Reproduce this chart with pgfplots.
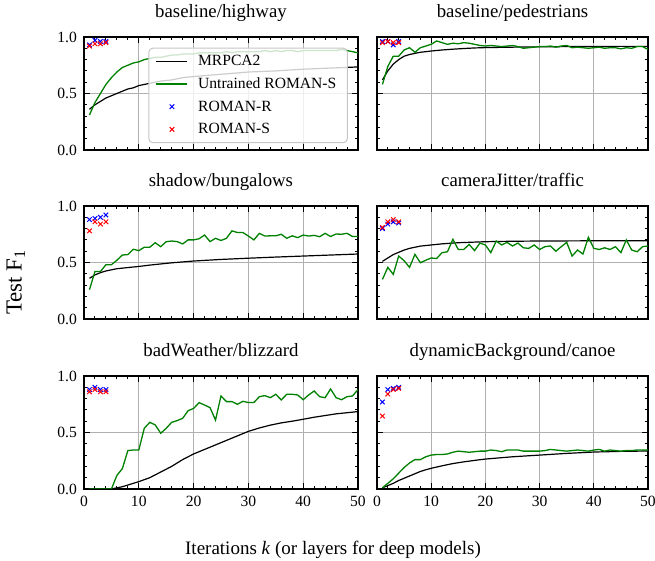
\documentclass[border=0pt]{standalone}
\usepackage{fontspec}
\setmainfont{Liberation Serif}
\usepackage{pgfplots}
\pgfplotsset{compat=1.18}

\definecolor{mgreen}{RGB}{0,128,0}
\definecolor{gridgray}{RGB}{176,176,176}
\newcommand\ticksz{\fontsize{7.8}{9}\selectfont}
\newcommand\titlesz{\fontsize{9.4}{11}\selectfont}

\pgfplotsset{
  panel/.style={
    scale only axis, height=56.5pt,
    xmin=0, xmax=50, ymin=0, ymax=1,
    xtick={0,10,...,50}, ytick={0,0.5,1},
    minor x tick num=4, minor y tick num=4,
    tick align=inside, tick pos=both,
    xticklabel pos=lower, yticklabel pos=left,
    major tick length=2.8pt, minor tick length=1.6pt,
    tick style={black, line width=0.5pt},
    axis line style={line width=0.6pt},
    grid=major, major grid style={gridgray, line width=0.5pt},
    tick label style={font=\ticksz},
    /pgf/number format/assume math mode=true,
    yticklabel style={/pgf/number format/.cd, fixed, fixed zerofill, precision=1},
    title style={font=\titlesz, anchor=base, at={(0.5,1)}, yshift=3.5pt},
  },
  mline/.style={black, line width=0.6pt, no marks,
    legend image code/.code={\draw[##1] (0pt,0pt) -- (15.5pt,0pt);}},
  gline/.style={mgreen, line width=0.65pt, no marks,
    legend image code/.code={\draw[##1] (0pt,0pt) -- (15.5pt,0pt);}},
  rmark/.style={blue, only marks, mark=x, mark size=1.6pt, mark options={line width=0.5pt},
    legend image code/.code={\draw[##1,mark repeat=2,mark phase=2] plot coordinates {(0pt,0pt)(7.75pt,0pt)(15.5pt,0pt)};}},
  smark/.style={red, only marks, mark=x, mark size=1.6pt, mark options={line width=0.5pt},
    legend image code/.code={\draw[##1,mark repeat=2,mark phase=2] plot coordinates {(0pt,0pt)(7.75pt,0pt)(15.5pt,0pt)};}},
  colL/.style={width=137pt},
  colR/.style={width=135.5pt, yticklabels={}},
}

\begin{document}
\begin{tikzpicture}
\path[use as bounding box] (0,0) rectangle (327.5pt,280.5pt);

% baseline/highway
\begin{axis}[panel, colL, at={(42pt,205.5pt)}, anchor=south west,
  title={baseline/highway}, xticklabels={},
  legend style={at={(0.963,0.905)}, anchor=north east, font=\ticksz,
    draw=gray!45, line width=0.5pt, rounded corners=2pt, fill=white,
    fill opacity=0.8, text opacity=1, draw opacity=1,
    inner xsep=3.5pt, inner ysep=1pt, column sep=3pt,
    nodes={text height=6.3pt, text depth=2pt, inner ysep=1.5pt}},
  legend cell align=left]
\addplot[mline] coordinates {(1,0.36) (2,0.40) (3,0.43) (4,0.46) (5,0.48) (6,0.50) (7,0.52) (8,0.54) (9,0.55) (10,0.57) (12,0.59) (14,0.61) (16,0.62) (18,0.64) (20,0.65) (25,0.67) (30,0.69) (35,0.70) (40,0.715) (45,0.725) (50,0.735)};
\addlegendentry{MRPCA2}
\addplot[gline] coordinates {(1,0.31) (2,0.42) (3,0.50) (4,0.58) (5,0.64) (6,0.69) (7,0.73) (8,0.75) (9,0.77) (10,0.78) (11,0.80) (12,0.81) (13,0.82) (14,0.82) (15,0.83) (16,0.84) (17,0.84) (18,0.85) (19,0.85) (20,0.85) (21,0.86) (22,0.86) (23,0.86) (24,0.86) (25,0.86) (26,0.87) (27,0.86) (28,0.87) (29,0.87) (30,0.87) (31,0.87) (32,0.87) (33,0.88) (34,0.87) (35,0.88) (36,0.87) (37,0.88) (38,0.88) (39,0.87) (40,0.88) (41,0.88) (42,0.88) (43,0.88) (44,0.88) (45,0.88) (46,0.88) (47,0.89) (48,0.88) (49,0.87) (50,0.86)};
\addlegendentry{Untrained ROMAN-S}
\addplot[rmark] coordinates {(1,0.93) (2,0.97) (3,0.96) (4,0.96)};
\addlegendentry{ROMAN-R}
\addplot[smark] coordinates {(1,0.92) (2,0.94) (3,0.94) (4,0.95)};
\addlegendentry{ROMAN-S}
\end{axis}

% baseline/pedestrians
\begin{axis}[panel, colR, at={(188.5pt,205.5pt)}, anchor=south west,
  title={baseline/pedestrians}, xticklabels={}]
\addplot[mline] coordinates {(1,0.62) (2,0.70) (3,0.76) (4,0.80) (5,0.83) (6,0.845) (7,0.855) (8,0.865) (9,0.87) (10,0.876) (12,0.885) (14,0.892) (16,0.898) (18,0.903) (20,0.906) (25,0.91) (30,0.913) (35,0.915) (40,0.916) (45,0.917) (50,0.917)};
\addplot[gline] coordinates {(1,0.58) (2,0.74) (3,0.83) (4,0.83) (5,0.885) (6,0.905) (7,0.865) (8,0.905) (9,0.92) (10,0.935) (11,0.965) (12,0.95) (13,0.935) (14,0.945) (15,0.94) (16,0.95) (17,0.945) (18,0.935) (19,0.925) (20,0.92) (21,0.925) (22,0.92) (23,0.915) (24,0.92) (25,0.925) (26,0.915) (27,0.90) (28,0.905) (29,0.91) (30,0.915) (31,0.915) (32,0.92) (33,0.91) (34,0.92) (35,0.925) (36,0.905) (37,0.91) (38,0.905) (39,0.90) (40,0.905) (41,0.91) (42,0.90) (43,0.905) (44,0.905) (45,0.895) (46,0.905) (47,0.90) (48,0.915) (49,0.915) (50,0.89)};
\addplot[rmark] coordinates {(1,0.96) (2,0.96) (3,0.93) (4,0.96)};
\addplot[smark] coordinates {(1,0.95) (2,0.96) (3,0.95) (4,0.95)};
\end{axis}

% shadow/bungalows
\begin{axis}[panel, colL, at={(42pt,121pt)}, anchor=south west,
  title={shadow/bungalows}, xticklabels={}]
\addplot[mline] coordinates {(1,0.36) (2,0.39) (3,0.41) (4,0.425) (5,0.435) (6,0.445) (8,0.455) (10,0.465) (12,0.477) (14,0.487) (16,0.497) (18,0.505) (20,0.513) (25,0.527) (30,0.538) (35,0.548) (40,0.557) (45,0.566) (50,0.575)};
\addplot[gline] coordinates {(1,0.26) (2,0.42) (3,0.42) (4,0.48) (5,0.48) (6,0.52) (7,0.566) (8,0.57) (9,0.617) (10,0.605) (11,0.635) (12,0.635) (13,0.675) (14,0.64) (15,0.684) (16,0.69) (17,0.685) (18,0.664) (19,0.70) (20,0.70) (21,0.71) (22,0.743) (23,0.685) (24,0.714) (25,0.695) (26,0.714) (27,0.78) (28,0.765) (29,0.765) (30,0.734) (31,0.70) (32,0.758) (33,0.734) (34,0.736) (35,0.736) (36,0.75) (37,0.714) (38,0.736) (39,0.72) (40,0.743) (41,0.734) (42,0.74) (43,0.728) (44,0.758) (45,0.73) (46,0.752) (47,0.75) (48,0.758) (49,0.73) (50,0.73)};
\addplot[rmark] coordinates {(1,0.88) (2,0.89) (3,0.90) (4,0.92)};
\addplot[smark] coordinates {(1,0.78) (2,0.86) (3,0.84) (4,0.86)};
\end{axis}

% cameraJitter/traffic
\begin{axis}[panel, colR, at={(188.5pt,121pt)}, anchor=south west,
  title={cameraJitter/traffic}, xticklabels={}]
\addplot[mline] coordinates {(1,0.51) (2,0.54) (3,0.57) (4,0.59) (5,0.61) (6,0.625) (7,0.635) (8,0.645) (10,0.655) (12,0.665) (15,0.675) (20,0.684) (25,0.688) (30,0.69) (40,0.692) (50,0.693)};
\addplot[gline] coordinates {(1,0.35) (2,0.457) (3,0.395) (4,0.557) (5,0.516) (6,0.457) (7,0.572) (8,0.498) (9,0.52) (10,0.54) (11,0.535) (12,0.587) (13,0.595) (14,0.705) (15,0.615) (16,0.615) (17,0.66) (18,0.605) (19,0.672) (20,0.655) (21,0.587) (22,0.69) (23,0.655) (24,0.678) (25,0.646) (26,0.672) (27,0.63) (28,0.625) (29,0.655) (30,0.615) (31,0.64) (32,0.646) (33,0.60) (34,0.64) (35,0.678) (36,0.557) (37,0.61) (38,0.575) (39,0.723) (40,0.625) (41,0.615) (42,0.63) (43,0.615) (44,0.64) (45,0.587) (46,0.70) (47,0.61) (48,0.595) (49,0.64) (50,0.646)};
\addplot[rmark] coordinates {(1,0.80) (2,0.84) (3,0.86) (4,0.85)};
\addplot[smark] coordinates {(1,0.81) (2,0.86) (3,0.88) (4,0.86)};
\end{axis}

% badWeather/blizzard
\begin{axis}[panel, colL, at={(42pt,36pt)}, anchor=south west,
  title={badWeather/blizzard}]
\addplot[mline] coordinates {(1,0) (2,0) (3,0) (4,0) (5,0.0) (6,0.01) (7,0.02) (8,0.035) (9,0.05) (10,0.065) (12,0.10) (14,0.15) (16,0.20) (18,0.26) (20,0.31) (22,0.35) (24,0.39) (26,0.43) (28,0.47) (30,0.51) (32,0.54) (34,0.565) (36,0.585) (38,0.60) (40,0.617) (42,0.635) (44,0.65) (46,0.665) (48,0.675) (50,0.685)};
\addplot[gline] coordinates {(1,0) (2,0) (3,0) (4,0) (5,0) (6,0.12) (7,0.18) (8,0.34) (9,0.345) (10,0.345) (11,0.537) (12,0.59) (13,0.567) (14,0.493) (15,0.537) (16,0.59) (17,0.605) (18,0.625) (19,0.693) (20,0.713) (21,0.764) (22,0.743) (23,0.72) (24,0.61) (25,0.823) (26,0.773) (27,0.773) (28,0.75) (29,0.776) (30,0.765) (31,0.765) (32,0.817) (33,0.826) (34,0.808) (35,0.838) (36,0.788) (37,0.838) (38,0.838) (39,0.832) (40,0.79) (41,0.832) (42,0.867) (43,0.817) (44,0.808) (45,0.885) (46,0.808) (47,0.79) (48,0.817) (49,0.823) (50,0.88)};
\addplot[rmark] coordinates {(1,0.88) (2,0.90) (3,0.88) (4,0.88)};
\addplot[smark] coordinates {(1,0.86) (2,0.88) (3,0.86) (4,0.86)};
\end{axis}

% dynamicBackground/canoe
\begin{axis}[panel, colR, at={(188.5pt,36pt)}, anchor=south west,
  title={dynamicBackground/canoe}]
\addplot[mline] coordinates {(1,0.01) (2,0.03) (3,0.05) (4,0.075) (5,0.095) (6,0.115) (7,0.135) (8,0.155) (9,0.17) (10,0.183) (12,0.205) (14,0.225) (16,0.24) (18,0.253) (20,0.265) (25,0.285) (30,0.30) (35,0.315) (40,0.327) (45,0.333) (50,0.336)};
\addplot[gline] coordinates {(1,0.01) (2,0.05) (3,0.09) (4,0.14) (5,0.19) (6,0.23) (7,0.26) (8,0.26) (9,0.285) (10,0.30) (11,0.305) (12,0.305) (13,0.31) (14,0.325) (15,0.335) (16,0.33) (17,0.325) (18,0.33) (19,0.335) (20,0.335) (21,0.345) (22,0.34) (23,0.33) (24,0.345) (25,0.345) (26,0.345) (27,0.335) (28,0.335) (29,0.335) (30,0.335) (31,0.34) (32,0.35) (33,0.345) (34,0.34) (35,0.335) (36,0.34) (37,0.345) (38,0.34) (39,0.335) (40,0.345) (41,0.35) (42,0.335) (43,0.345) (44,0.34) (45,0.335) (46,0.34) (47,0.34) (48,0.345) (49,0.345) (50,0.345)};
\addplot[rmark] coordinates {(1,0.77) (2,0.88) (3,0.89) (4,0.90)};
\addplot[smark] coordinates {(1,0.645) (2,0.84) (3,0.88) (4,0.89)};
\end{axis}

\node[font=\fontsize{9.5}{11}\selectfont, anchor=base] at (166.5pt,3pt) {Iterations \textit{k} (or layers for deep models)};
\node[font=\fontsize{11.5}{13}\selectfont, rotate=90, anchor=base] at (10.8pt,139.5pt) {Test F\textsubscript{1}};
\end{tikzpicture}
\end{document}
